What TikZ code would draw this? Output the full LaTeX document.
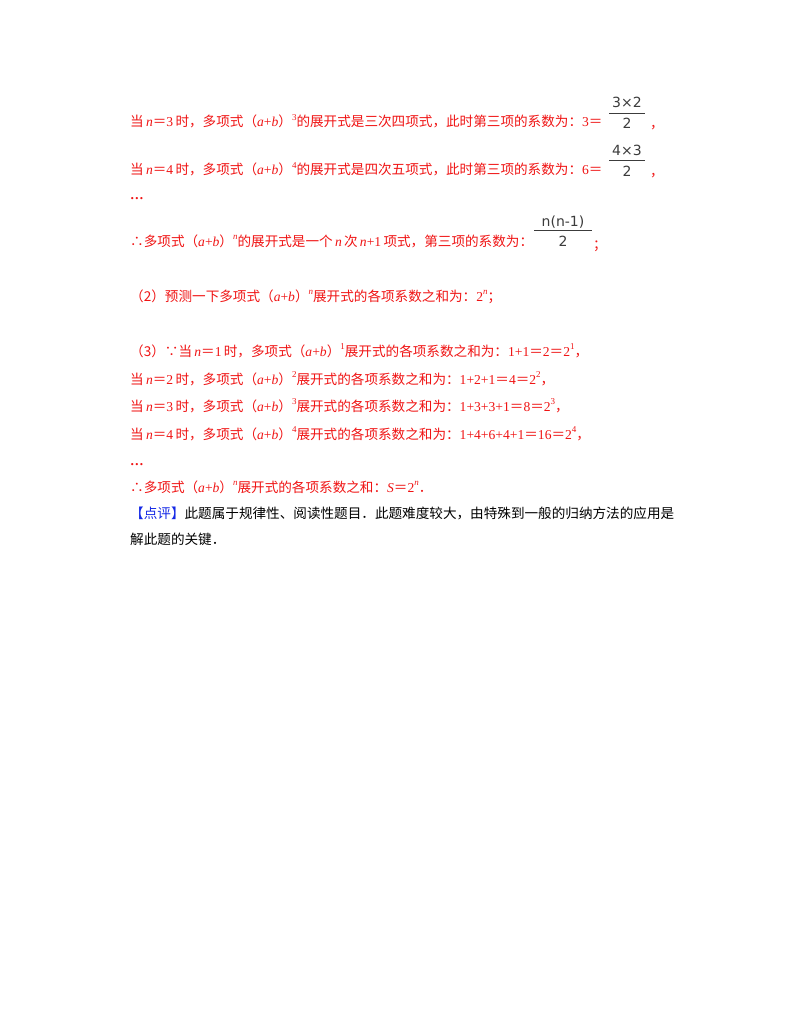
\documentclass[tikz,border=0pt]{standalone}
\usepackage{fontspec}
\setmainfont{Noto Sans CJK SC}
\newfontfamily\tm{Liberation Serif}
\newfontfamily\fr{DejaVu Sans}
\newcommand\vi[1]{{\tm\itshape #1}}
\newcommand\vr[1]{{\tm #1}}
\newcommand\eq{＝}
\newcommand\sps[1]{\raisebox{0.5em}{\tm\fontsize{9pt}{9pt}\selectfont #1}}
\definecolor{rd}{RGB}{240,20,20}
\definecolor{bl}{RGB}{20,40,230}
\definecolor{fg}{RGB}{60,60,60}
\tikzset{ln/.style={anchor=base west,inner sep=0pt,font=\fontsize{13.6pt}{14pt}\selectfont},
 fr/.style={inner sep=0pt,anchor=base,fg,font=\fr\fontsize{14pt}{14pt}\selectfont}}
\begin{document}
\begin{tikzpicture}[x=1pt,y=-1pt]
\useasboundingbox[fill=white] (0,0) rectangle (800,1035);
\begin{scope}[rd]
\node[ln] (l1) at (130,127) {当\,\vi{n}\eq\vr{3}\,时，多项式（\vi{a}\vr{+}\vi{b}）\sps{3}的展开式是三次四项式，此时第三项的系数为：\vr{3}\eq};
\node[ln] (c1) at (650,129) {，};
\node[ln] (l2) at (130,175) {当\,\vi{n}\eq\vr{4}\,时，多项式（\vi{a}\vr{+}\vi{b}）\sps{4}的展开式是四次五项式，此时第三项的系数为：\vr{6}\eq};
\node[ln] (c2) at (650,177) {，};
\node[ln] (d1) at (130,200) {\vr{\textbf{…}}};
\node[ln] (l3) at (130,246) {∴多项式（\vi{a}\vr{+}\vi{b}）\sps{\itshape n}的展开式是一个\,\vi{n}\,次\,\vi{n}\vr{+1}\,项式，第三项的系数为：};
\node[ln] (c3) at (593,249) {；};
\node[ln] (l4) at (130,301) {（2）预测一下多项式（\vi{a}\vr{+}\vi{b}）\sps{\itshape n}展开式的各项系数之和为：\vr{2}\sps{\itshape n}；};
\node[ln] (l5) at (130,356) {（3）∵当\,\vi{n}\eq\vr{1}\,时，多项式（\vi{a}\vr{+}\vi{b}）\sps{1}展开式的各项系数之和为：\vr{1+1}\eq\vr{2}\eq\vr{2}\sps{1}，};
\node[ln] (l6) at (130,384) {当\,\vi{n}\eq\vr{2}\,时，多项式（\vi{a}\vr{+}\vi{b}）\sps{2}展开式的各项系数之和为：\vr{1+2+1}\eq\vr{4}\eq\vr{2}\sps{2}，};
\node[ln] (l7) at (130,411) {当\,\vi{n}\eq\vr{3}\,时，多项式（\vi{a}\vr{+}\vi{b}）\sps{3}展开式的各项系数之和为：\vr{1+3+3+1}\eq\vr{8}\eq\vr{2}\sps{3}，};
\node[ln] (l8) at (130,439) {当\,\vi{n}\eq\vr{4}\,时，多项式（\vi{a}\vr{+}\vi{b}）\sps{4}展开式的各项系数之和为：\vr{1+4+6+4+1}\eq\vr{16}\eq\vr{2}\sps{4}，};
\node[ln] (d2) at (130,465) {\vr{\textbf{…}}};
\node[ln] (l9) at (130,492) {∴多项式（\vi{a}\vr{+}\vi{b}）\sps{\itshape n}展开式的各项系数之和：\vi{S}\eq\vr{2}\sps{\itshape n}．};
\end{scope}
\node[fr] (f1n) at (627,108) {3×2};
\node[fr] (f1d) at (627,129) {2};
\draw[fg,line width=0.8pt] (609,113) -- (645,113);
\node[fr] (f2n) at (627,156) {4×3};
\node[fr] (f2d) at (627,176) {2};
\draw[fg,line width=0.8pt] (609,160) -- (645,160);
\node[fr] (f3n) at (563,226) {n(n-1)};
\node[fr] (f3d) at (563,246) {2};
\draw[fg,line width=0.8pt] (534,230) -- (592,230);
\node[ln] (l10) at (130,518) {\textcolor{bl}{【点评】}此题属于规律性、阅读性题目．此题难度较大，由特殊到一般的归纳方法的应用是};
\node[ln] (l11) at (130,544) {解此题的关键．};
\end{tikzpicture}
\end{document}
